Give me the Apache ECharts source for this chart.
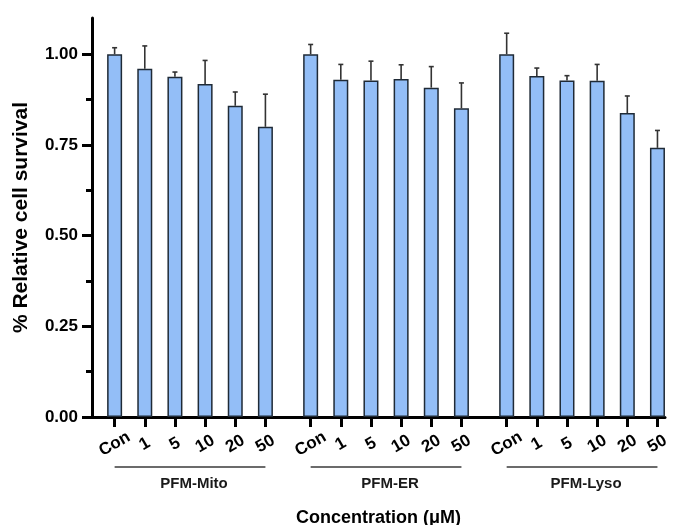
<!DOCTYPE html>
<html>
<head>
<meta charset="utf-8">
<script src="https://cdn.jsdelivr.net/npm/echarts@6/dist/echarts.min.js"></script>
<style>
html,body{margin:0;padding:0;background:#fff;}
#chart{width:673px;height:525px;}
</style>
</head>
<body>
<div id="chart"></div>
<script>
const groups = ['PFM-Mito', 'PFM-ER', 'PFM-Lyso'];
const doses = ['Con', '1', '5', '10', '20', '50'];
const mitoMean = [1.00, 0.96, 0.938, 0.918, 0.858, 0.80];
const mitoErr  = [0.018, 0.063, 0.013, 0.065, 0.038, 0.09];
const erMean   = [1.00, 0.93, 0.928, 0.932, 0.908, 0.851];
const erErr    = [0.027, 0.042, 0.053, 0.039, 0.058, 0.07];
const lysoMean = [1.00, 0.94, 0.928, 0.927, 0.838, 0.742];
const lysoErr  = [0.058, 0.022, 0.013, 0.045, 0.047, 0.048];
const yMajorTicks = [0, 0.25, 0.5, 0.75, 1.0];
const yMinorTicks = [0.125, 0.375, 0.625, 0.875];

const means = [mitoMean, erMean, lysoMean];
const errs = [mitoErr, erErr, lysoErr];

// Build category slots (blank slots create spacing between bars and groups)
const cats = [''];
const barData = ['-'];
const errData = [];
const groupSpans = [];
groups.forEach((g, gi) => {
  let first = null, last = null;
  doses.forEach((d, di) => {
    const idx = cats.length;
    cats.push(d);
    barData.push(means[gi][di]);
    errData.push([idx, means[gi][di], errs[gi][di]]);
    if (first === null) first = idx;
    last = idx;
    if (di < doses.length - 1) { cats.push(''); barData.push('-'); }
  });
  groupSpans.push([first, last, 0, gi]);
  if (gi < groups.length - 1) { cats.push(''); cats.push(''); barData.push('-'); barData.push('-'); }
});

const chart = echarts.init(document.getElementById('chart'), null, {renderer: 'canvas'});
const FONT = 'Liberation Sans, Arial, sans-serif';

chart.setOption({
  animation: false,
  backgroundColor: '#fff',
  grid: {left: 92, right: 8, top: 18, bottom: 108, containLabel: false, outerBoundsMode: 'none'},
  xAxis: {
    type: 'category',
    data: cats,
    boundaryGap: true,
    axisLine: {show: true, lineStyle: {color: '#000', width: 3}},
    axisTick: {show: true, alignWithLabel: true, length: 10, lineStyle: {color: '#000', width: 3},
      interval: (i, v) => v !== ''},
    axisLabel: {interval: 0, rotate: 30, align: 'center', verticalAlign: 'middle', margin: 27,
      fontFamily: FONT, fontWeight: 'bold', fontSize: 17, color: '#000'},
    splitLine: {show: false},
    name: 'Concentration (\u03bcM)',
    nameLocation: 'middle',
    nameGap: 92,
    nameTextStyle: {fontFamily: FONT, fontWeight: 'bold', fontSize: 18, color: '#000'}
  },
  yAxis: [{
    type: 'value',
    min: 0, max: 1.1,
    axisLine: {show: true, lineStyle: {color: '#000', width: 3}},
    axisTick: {show: true, length: 10, lineStyle: {color: '#000', width: 3}, customValues: yMajorTicks},
    axisLabel: {customValues: yMajorTicks, formatter: v => v.toFixed(2), margin: 14,
      fontFamily: FONT, fontWeight: 'bold', fontSize: 17, color: '#000'},
    splitLine: {show: false},
    name: '% Relative cell survival',
    nameLocation: 'middle',
    nameGap: 60,
    nameTextStyle: {fontFamily: FONT, fontWeight: 'bold', fontSize: 21, color: '#000'}
  }, {
    type: 'value',
    min: 0, max: 1.1,
    position: 'left',
    axisLine: {show: false},
    axisTick: {show: true, length: 6, lineStyle: {color: '#000', width: 3}, customValues: yMinorTicks},
    axisLabel: {show: false},
    splitLine: {show: false}
  }],
  series: [{
    type: 'bar',
    data: barData,
    barWidth: 15,
    itemStyle: {color: '#93BEF7', borderColor: '#1f2a36', borderWidth: 1.5}
  }, {
    type: 'custom',
    data: errData,
    encode: {x: 0, y: 1},
    z: 3,
    renderItem: (params, api) => {
      const c = api.value(0), m = api.value(1), e = api.value(2);
      const p0 = api.coord([c, m]);
      const p1 = api.coord([c, m + e]);
      const style = {stroke: '#333', lineWidth: 1.6};
      return {type: 'group', children: [
        {type: 'line', shape: {x1: p0[0], y1: p0[1], x2: p1[0], y2: p1[1]}, style},
        {type: 'line', shape: {x1: p1[0] - 2.5, y1: p1[1], x2: p1[0] + 2.5, y2: p1[1]}, style}
      ]};
    }
  }, {
    type: 'custom',
    data: groupSpans,
    encode: {x: [0, 1], y: 2},
    clip: false,
    silent: true,
    renderItem: (params, api) => {
      const a = api.coord([api.value(0), 0]);
      const b = api.coord([api.value(1), 0]);
      const gi = api.value(3);
      return {type: 'group', children: [
        {type: 'line', shape: {x1: a[0], y1: a[1] + 50, x2: b[0], y2: b[1] + 50},
          style: {stroke: '#6b6b6b', lineWidth: 2}},
        {type: 'text', x: (a[0] + b[0]) / 2 + 4, y: a[1] + 67,
          style: {text: groups[gi], textAlign: 'center', textVerticalAlign: 'middle',
            font: 'bold 15px ' + FONT, fill: '#1a1a1a'}}
      ]};
    }
  }]
});
</script>
</body>
</html>
